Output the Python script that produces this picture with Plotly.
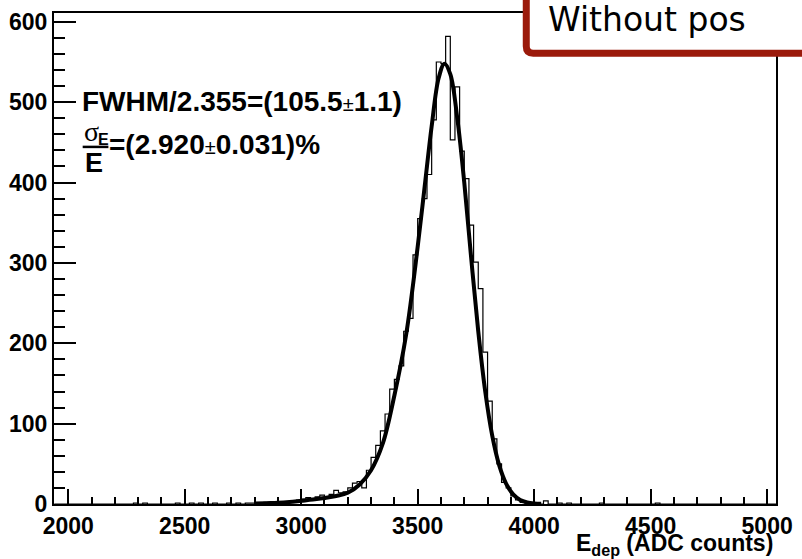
import plotly.graph_objects as go

# ---------------- data ----------------
first_edge = 1940
bin_width = 20
counts = [
    0, 0, 0,                      # 1940-2000
    0, 0, 0, 0, 0,                # 2000-2100
    0, 0, 0, 0, 0,                # 2100-2200
    0, 0, 0, 0, 1,                # 2200-2300
    0, 1, 0, 0, 0,                # 2300-2400
    0, 0, 0, 1, 0,                # 2400-2500
    0, 1, 0, 1, 0,                # 2500-2600
    0, 1, 0, 0, 1,                # 2600-2700
    0, 1, 0, 1, 1,                # 2700-2800
    0, 1, 2, 1, 2,                # 2800-2900
    3, 2, 3, 4, 5,                # 2900-3000
    6, 8, 6, 9, 11,               # 3000-3100
    9, 12, 17, 14, 15,            # 3100-3200
    20, 26, 28, 20, 42,           # 3200-3300
    58, 73, 91, 112, 143,         # 3300-3400
    155, 172, 215, 231, 310,      # 3400-3500
    355, 380, 410, 478, 550,      # 3500-3600
    548, 582, 453, 519, 439,      # 3600-3700
    405, 347, 301, 268, 189,      # 3700-3800
    128, 81, 50, 27, 20,          # 3800-3900
    10, 5, 2, 1, 1,               # 3900-4000
    0, 0, 4, 0, 0,                # 4000-4100
    1, 0, 1, 0, 0,                # 4100-4200
    0, 0, 0, 0, 1,                # 4200-4300
    0, 0, 0, 0, 0,                # 4300-4400
    0, 0, 0, 0, 0,                # 4400-4500
    0, 1, 0, 0, 0,                # 4500-4600
    0, 0, 0, 0, 0,                # 4600-4700
    0, 0, 0, 0, 0,                # 4700-4800
    0, 0, 0, 0, 0,                # 4800-4900
    0, 0, 0, 0, 0,                # 4900-5000
    0, 0,                         # 5000-5040
]

fit_E = [2800, 2850, 2900, 2950, 3000, 3050, 3100, 3150, 3200, 3250, 3300,
         3350, 3400, 3450, 3500, 3530, 3560, 3590, 3615, 3640, 3670, 3700,
         3730, 3760, 3790, 3820, 3850, 3880, 3910, 3940, 3970, 4000, 4030]
fit_V = [0.5, 1, 1.5, 2.5, 4, 5.5, 7.5, 10, 14, 24, 42,
         75, 135, 210, 320, 395, 470, 530, 548, 535, 480, 400,
         305, 215, 140, 85, 48, 25, 12, 5, 2, 0.7, 0.2]

x_ticks = [2000, 2500, 3000, 3500, 4000, 4500, 5000]
y_ticks = [0, 100, 200, 300, 400, 500, 600]

fwhm_text = "FWHM/2.355=(105.5<span style='font-weight:normal;font-size:20px'>±</span>1.1)"
res_text = "=(2.920<span style='font-weight:normal;font-size:20px'>±</span>0.031)%"
title_text = "Without pos"

# ---------------- geometry helpers (pixel -> paper) ----------------
L, R, T, B = 54, 784, 9, 504
def px(x):
    return (x - L) / (R - L)
def py(y):
    return (B - y) / (B - T)

edges = [first_edge + k * bin_width for k in range(len(counts) + 1)]
step_x = edges[:-1] + [edges[-1]]
step_y = counts + [0]

fig = go.Figure()
fig.add_trace(go.Scatter(x=step_x, y=step_y, mode="lines", line_shape="hv",
                         line=dict(color="black", width=1.2), hoverinfo="skip"))
fig.add_trace(go.Scatter(x=fit_E, y=fit_V, mode="lines", line_shape="spline",
                         line=dict(color="black", width=4), hoverinfo="skip"))

tickfont = dict(family="Liberation Sans", size=23, color="black", weight="bold")

fig.update_layout(
    width=802, height=559,
    margin=dict(l=L, r=802 - R, t=T, b=559 - B),
    paper_bgcolor="white", plot_bgcolor="white",
    showlegend=False,
    xaxis=dict(range=[1939, 5038], tickmode="array", tickvals=x_ticks,
               ticktext=[str(v) for v in x_ticks], ticks="inside", ticklen=15,
               tickwidth=1.5, tickcolor="black", showline=True, linecolor="black",
               linewidth=2, mirror=True, showgrid=False, zeroline=False,
               tickfont=tickfont,
               minor=dict(ticks="inside", ticklen=7, dtick=100, tick0=2000,
                          tickwidth=1.5, tickcolor="black", showgrid=False)),
    yaxis=dict(range=[0, 611], tickmode="array", tickvals=y_ticks,
               ticktext=[str(v) for v in y_ticks], ticks="inside", ticklen=22,
               tickwidth=1.5, tickcolor="black", showline=True, linecolor="black",
               linewidth=2, mirror=True, showgrid=False, zeroline=False,
               tickfont=tickfont,
               minor=dict(ticks="inside", ticklen=11, dtick=20, tick0=0,
                          tickwidth=1.5, tickcolor="black", showgrid=False)),
)

bold = dict(family="Liberation Sans", color="black", weight="bold")

annotations = [
    dict(text=fwhm_text, x=px(80), y=py(98), xanchor="left", yanchor="middle",
         font=dict(size=28, **bold)),
    dict(text="σ", x=px(82), y=py(128), xanchor="left", yanchor="middle",
         font=dict(family="Liberation Serif", size=28, color="black")),
    dict(text="E", x=px(96), y=py(137), xanchor="left", yanchor="middle",
         font=dict(size=16, **bold)),
    dict(text="E", x=px(94), y=py(160), xanchor="center", yanchor="middle",
         font=dict(size=27, **bold)),
    dict(text=res_text, x=px(108), y=py(142), xanchor="left", yanchor="middle",
         font=dict(size=28, **bold)),
    dict(text="E<sub>dep</sub> (ADC counts)", x=px(783), y=py(545),
         xanchor="right", yanchor="middle", font=dict(size=23, **bold)),
    dict(text=title_text, x=px(551), y=py(16), xanchor="left", yanchor="middle",
         font=dict(family="DejaVu Sans", size=33, color="black")),
]
for a in annotations:
    a.update(xref="paper", yref="paper", showarrow=False)
fig.update_layout(annotations=annotations)

# fraction bar
fig.add_shape(type="line", xref="paper", yref="paper",
              x0=px(83), x1=px(109), y0=py(144), y1=py(144),
              line=dict(color="black", width=2.5))

# red rounded box (top right)
xl, yb, r = 531.5, 49.5, 7
path = (f"M{px(xl)},{py(-20)} L{px(xl)},{py(yb - r)} "
        f"Q{px(xl)},{py(yb)} {px(xl + r)},{py(yb)} "
        f"L{px(830)},{py(yb)} L{px(830)},{py(-20)} Z")
fig.add_shape(type="path", xref="paper", yref="paper", path=path,
              fillcolor="white", line=dict(color="#9b1a0b", width=7),
              layer="above")

fig.write_html("out.html")
